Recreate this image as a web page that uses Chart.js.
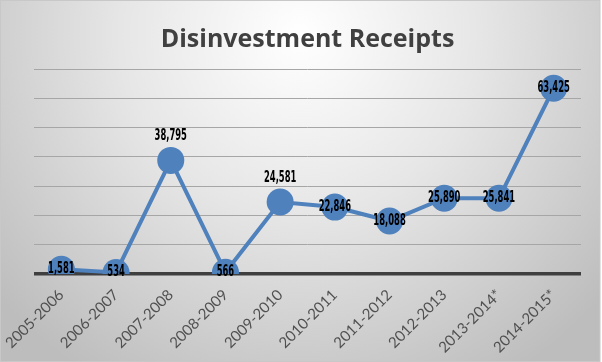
<!DOCTYPE html>
<html>
<head>
<meta charset="utf-8">
<script src="https://cdn.jsdelivr.net/npm/chart.js@4"></script>
<style>
  body { margin: 0; background: #fff; }
  #wrap { width: 602px; height: 362px; }
</style>
</head>
<body>
<div id="wrap"><canvas id="mainCanvas" width="602" height="362"></canvas></div>
<script>
const years = ["2005-2006", "2006-2007", "2007-2008", "2008-2009", "2009-2010",
               "2010-2011", "2011-2012", "2012-2013", "2013-2014*", "2014-2015*"];
const receipts = [1581, 534, 38795, 566, 24581, 22846, 18088, 25890, 25841, 63425];
const yTicks = [0, 10000, 20000, 30000, 40000, 50000, 60000, 70000];

// labels that excel put above the marker instead of on it
const labelsAbove = [2, 4];

const bgPlugin = {
    id: 'bg',
    beforeDraw(c) {
        const ctx = c.ctx;
        ctx.save();
        ctx.fillStyle = '#ffffff';
        ctx.fillRect(0, 0, c.width, c.height);
        const g = ctx.createRadialGradient(300, 35, 0, 300, 35, 400);
        g.addColorStop(0, '#ffffff');
        g.addColorStop(0.45, '#e6e6e6');
        g.addColorStop(1, '#bdbdbd');
        ctx.fillStyle = g;
        ctx.fillRect(0, 0, 600, c.height);
        ctx.strokeStyle = '#c8c8c8';
        ctx.lineWidth = 1;
        ctx.strokeRect(0.5, 0.5, 599.5, c.height - 1);
        ctx.restore();
    }
};

// condensed bold numbers, squeezed by hand since no narrow font is around
const labelPlugin = {
    id: 'vals',
    afterDatasetsDraw(c) {
        const ctx = c.ctx;
        const meta = c.getDatasetMeta(0);
        ctx.save();
        ctx.font = 'bold 15px "DejaVu Sans", sans-serif';
        ctx.fillStyle = '#000000';
        ctx.textAlign = 'center';
        ctx.textBaseline = 'middle';
        meta.data.forEach((pt, i) => {
            const txt = receipts[i].toLocaleString('en-US');
            const y = labelsAbove.includes(i) ? pt.y - 24 : pt.y;
            ctx.save();
            ctx.translate(pt.x, y);
            ctx.scale(0.56, 1);
            ctx.fillText(txt, 0, 0);
            ctx.restore();
        });
        ctx.restore();
    }
};

const chart = new Chart(document.getElementById('mainCanvas'), {
    type: 'line',
    data: {
        labels: years,
        datasets: [{
            label: 'Disinvestment Receipts',
            data: receipts,
            borderColor: '#4f81bd',
            backgroundColor: '#4f81bd',
            borderWidth: 4,
            pointRadius: 13.5,
            pointHoverRadius: 13.5,
            pointBorderWidth: 0,
            tension: 0
        }]
    },
    options: {
        responsive: false,
        animation: false,
        layout: { padding: { left: 34, right: 21, top: 0, bottom: 0 } },
        plugins: {
            legend: { display: false },
            tooltip: { enabled: false },
            title: {
                display: true,
                text: 'Disinvestment Receipts',
                color: '#404040',
                font: { family: '"Open Sans", sans-serif', size: 25, weight: 'bold' },
                padding: { top: 25, bottom: 14 }
            }
        },
        scales: {
            x: {
                offset: true,
                grid: { display: false },
                border: { display: false },
                ticks: {
                    color: '#505050',
                    font: { family: 'Lato, sans-serif', size: 15 },
                    minRotation: 45,
                    maxRotation: 45,
                    padding: 4
                },
                afterFit(s) { s.height = 88; }
            },
            y: {
                min: 0,
                max: 70000,
                afterBuildTicks(s) { s.ticks = yTicks.map(v => ({ value: v })); },
                ticks: { display: false },
                border: { display: false },
                grid: {
                    drawTicks: false,
                    color: ctx => ctx.tick.value === 0 ? '#3f3f3f' : '#a6a6a6',
                    lineWidth: ctx => ctx.tick.value === 0 ? 3.5 : 1
                },
                afterFit(s) { s.width = 0; }
            }
        }
    },
    plugins: [bgPlugin, labelPlugin]
});
</script>
</body>
</html>
